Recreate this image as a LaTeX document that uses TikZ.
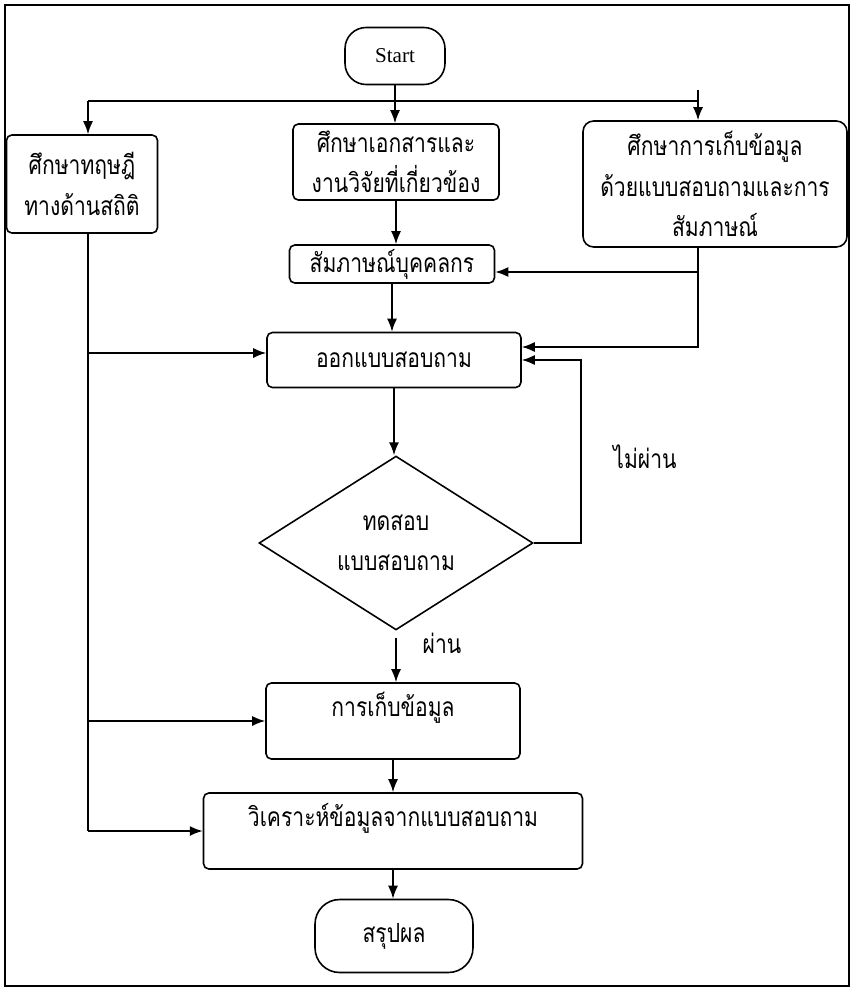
\documentclass[tikz,border=0pt]{standalone}
\usepackage{fontspec}
\setmainfont{Liberation Serif}
\newfontfamily\thaifont[Script=Thai,FakeStretch=0.8]{Loma}
\usetikzlibrary{shapes.geometric,arrows.meta,calc}

\begin{document}
\begin{tikzpicture}[x=0.02cm,y=-0.02cm,line width=0.9pt,
	box/.style={draw,rounded corners=3pt,font=\thaifont\fontsize{15}{23}\selectfont,align=center,inner sep=2pt},
	term/.style={draw,rounded corners=12pt,inner sep=2pt},
	decision/.style={draw,diamond,inner sep=0pt,font=\thaifont\fontsize{15}{23}\selectfont,align=center},
	lbl/.style={font=\thaifont\fontsize{15}{23}\selectfont},
	toptext/.style={text height=0.4cm,text depth=0.6cm},
	arrow/.style={-{Latex[length=0.26cm,width=0.2cm]}}]
	\useasboundingbox (0,0) rectangle (853,997);
	\draw [line width=1pt] (5,5) rectangle (849,986);

	% boxes
	\node[term,minimum width=2cm,minimum height=1.14cm,font=\fontsize{12}{14}\selectfont] (start) at (395,56) {Start};
	\node[box,minimum width=3.02cm,minimum height=1.96cm] (theory) at (82,184) {ศึกษาทฤษฎี\\ทางด้านสถิติ};
	\node[box,minimum width=4.12cm,minimum height=1.52cm] (docs) at (396,162) {ศึกษาเอกสารและ\\งานวิจัยที่เกี่ยวข้อง};
	\node[box,rounded corners=6pt,minimum width=5.28cm,minimum height=2.52cm] (method) at (715,184) {ศึกษาการเก็บข้อมูล\\ด้วยแบบสอบถามและการ\\สัมภาษณ์};
	\node[box,minimum width=4.1cm,minimum height=0.76cm] (interview) at (392,264) {สัมภาษณ์บุคคลกร};
	\node[box,minimum width=5.08cm,minimum height=1.1cm] (design) at (394,360) {ออกแบบสอบถาม};
	\node[decision,minimum width=5.48cm,minimum height=3.2cm] (test) at (396,543) {ทดสอบ\\แบบสอบถาม};
	\node[box,toptext,minimum width=5.08cm,minimum height=1.52cm] (collect) at (393,721) {การเก็บข้อมูล};
	\node[box,toptext,minimum width=7.58cm,minimum height=1.52cm] (analyse) at (393,831) {วิเคราะห์ข้อมูลจากแบบสอบถาม};
	\node[term,rounded corners=14pt,minimum width=3.16cm,minimum height=1.46cm,font=\thaifont\fontsize{15}{23}\selectfont] (summary) at (394,936) {สรุปผล};

	\node[lbl] (fail) at (645,457) {ไม่ผ่าน};
	\node[lbl] (pass) at (442,643) {ผ่าน};

	% top split
	\coordinate (busL) at (88,101);
	\coordinate (busR) at (698,101);
	\coordinate (tick) at (698,90);
	\draw (busL) -- (busR);
	\draw[arrow] (start.south) -- (start.south |- docs.north);
	\draw[arrow] (busL) -- (busL |- theory.north);
	\draw[arrow] (tick) -- (tick |- method.north);

	% middle column
	\draw[arrow] (docs.south) -- (docs.south |- interview.north);
	\draw[arrow] (interview.south) -- (interview.south |- design.north);
	\draw[arrow] (design.south) -- (design.south |- test.north);
	\draw[arrow,shorten <=0.14cm] (test.south) -- (test.south |- collect.north);
	\draw[arrow] (collect.south) -- (collect.south |- analyse.north);
	\draw[arrow] (analyse.south) -- (analyse.south |- summary.north);

	% right side
	\coordinate (intin) at ($(interview.east)+(0,8)$);
	\coordinate (desin) at ($(design.east)+(0,-13)$);
	\draw[arrow] (method.south -| tick) |- (desin);
	\draw[arrow] (intin -| tick) -- (intin);
	\draw[arrow] (test.east) -- ++(47,0) |- (design.east);

	% left side
	\coordinate (desL) at ($(design.west)+(0,-7)$);
	\draw (theory.south -| busL) -- (busL |- analyse.west);
	\draw[arrow] (busL |- desL) -- (desL);
	\draw[arrow] (busL |- collect.west) -- (collect.west);
	\draw[arrow] (busL |- analyse.west) -- (analyse.west);
\end{tikzpicture}
\end{document}
